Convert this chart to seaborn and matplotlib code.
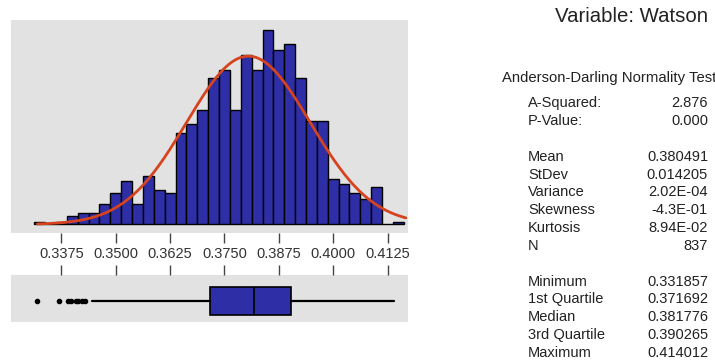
import numpy as np
import pandas as pd
import matplotlib
matplotlib.use("Agg")
import matplotlib.pyplot as plt
import seaborn as sns

# histogram bins (centres) and counts
bin_centers = [0.3325, 0.3350, 0.3375, 0.3400, 0.3425, 0.3450, 0.3475, 0.3500,
               0.3525, 0.3550, 0.3575, 0.3600, 0.3625, 0.3650, 0.3675, 0.3700,
               0.3725, 0.3750, 0.3775, 0.3800, 0.3825, 0.3850, 0.3875, 0.3900,
               0.3925, 0.3950, 0.3975, 0.4000, 0.4025, 0.4050, 0.4075, 0.4100,
               0.4125, 0.4150]
counts = [1, 0, 1, 3, 4, 4, 7, 11, 15, 7, 17, 12, 11, 32, 35, 40, 51, 54, 40,
          59, 54, 68, 61, 63, 51, 36, 36, 16, 14, 11, 9, 13, 0, 1]
bin_width = 0.0025

tick_values = [0.3375, 0.3500, 0.3625, 0.3750, 0.3875, 0.4000, 0.4125]

# summary stats
mean = 0.380491
stdev = 0.014205
n_obs = 837
q1 = 0.371692
median = 0.381776
q3 = 0.390265
whisker_lo = 0.3445
whisker_hi = 0.414012
outliers = [0.331857, 0.33695, 0.33902, 0.33980, 0.34079, 0.34141, 0.34216, 0.34292]

stat_labels = [["A-Squared:", "P-Value:"],
               ["Mean", "StDev", "Variance", "Skewness", "Kurtosis", "N"],
               ["Minimum", "1st Quartile", "Median", "3rd Quartile", "Maximum"]]
stat_values = [["2.876", "0.000"],
               ["0.380491", "0.014205", "2.02E-04", "-4.3E-01", "8.94E-02", "837"],
               ["0.331857", "0.371692", "0.381776", "0.390265", "0.414012"]]

sns.set_style("white")
plt.rcParams['font.family'] = ['Liberation Sans', 'DejaVu Sans']

bg = "#e2e2e2"
blue = "#2e2ea6"
red = "#d6431f"

fig = plt.figure(figsize=(7.15, 3.6), dpi=100)
ax = fig.add_axes([0.0154, 0.3528, 0.5552, 0.5917])
axb = fig.add_axes([0.0154, 0.1056, 0.5552, 0.1306])

xlim = (0.3259, 0.4172)

df = pd.DataFrame({"x": bin_centers, "n": counts})
edges = [bin_centers[0] - bin_width / 2 + i * bin_width for i in range(len(bin_centers) + 1)]
sns.histplot(data=df, x="x", weights="n", bins=edges, ax=ax,
             color=blue, alpha=1, edgecolor="black", linewidth=1)

# fitted normal curve (from mean / stdev)
xs = np.linspace(0.3320, 0.4167, 300)
pdf = n_obs * bin_width / (stdev * np.sqrt(2 * np.pi)) * np.exp(-0.5 * ((xs - mean) / stdev) ** 2)
sns.lineplot(x=xs, y=pdf, ax=ax, color=red, linewidth=2)

ax.set_facecolor(bg)
ax.set_xlim(xlim)
ax.set_ylim(-3.0, 71.4)
ax.set_yticks([])
ax.set_xticks(tick_values)
ax.set_xticklabels([f"{v:.4f}" for v in tick_values], fontsize=10.5, color="#333333")
ax.tick_params(axis="x", direction="out", length=7, width=1, color="#444444", pad=3, bottom=True)
ax.set_xlabel("")
ax.set_ylabel("")
for s in ax.spines.values():
    s.set_visible(False)

# boxplot from the summary values
bstats = [{"med": median, "q1": q1, "q3": q3, "whislo": whisker_lo,
           "whishi": whisker_hi, "fliers": outliers}]
axb.bxp(bstats, positions=[1], widths=0.6, vert=False, patch_artist=True,
        showcaps=False,
        boxprops=dict(facecolor=blue, edgecolor="black", linewidth=1.2),
        medianprops=dict(color="black", linewidth=1.2),
        whiskerprops=dict(color="black", linewidth=1.6),
        flierprops=dict(marker="o", markerfacecolor="black", markeredgecolor="black",
                        markersize=3))
axb.set_facecolor(bg)
axb.set_xlim(xlim)
axb.set_ylim(0.549, 1.549)
axb.set_yticks([])
axb.set_xticks(tick_values)
axb.tick_params(axis="x", direction="out", length=7, width=1, color="#444444",
                top=True, bottom=False, labeltop=False, labelbottom=False)
for s in axb.spines.values():
    s.set_visible(False)

# text panel
fig.text(708 / 715, 1 - 17 / 360, "Variable: Watson", ha="right", va="center",
         fontsize=14.7, color="#222222")
fig.text(502 / 715, 1 - 78 / 360, "Anderson-Darling Normality Test", ha="left",
         va="center", fontsize=10.7, color="#222222")
row_y = [[103, 121], [157, 175, 192, 210, 228, 246], [282, 299, 317, 335, 353]]
for labels, values, ys in zip(stat_labels, stat_values, row_y):
    for lab, val, y in zip(labels, values, ys):
        fig.text(528 / 715, 1 - y / 360, lab, ha="left", va="center", fontsize=10.5, color="#222222")
        fig.text(708 / 715, 1 - y / 360, val, ha="right", va="center", fontsize=10.5, color="#222222")

fig.savefig("out.png", dpi=100, facecolor="white")
